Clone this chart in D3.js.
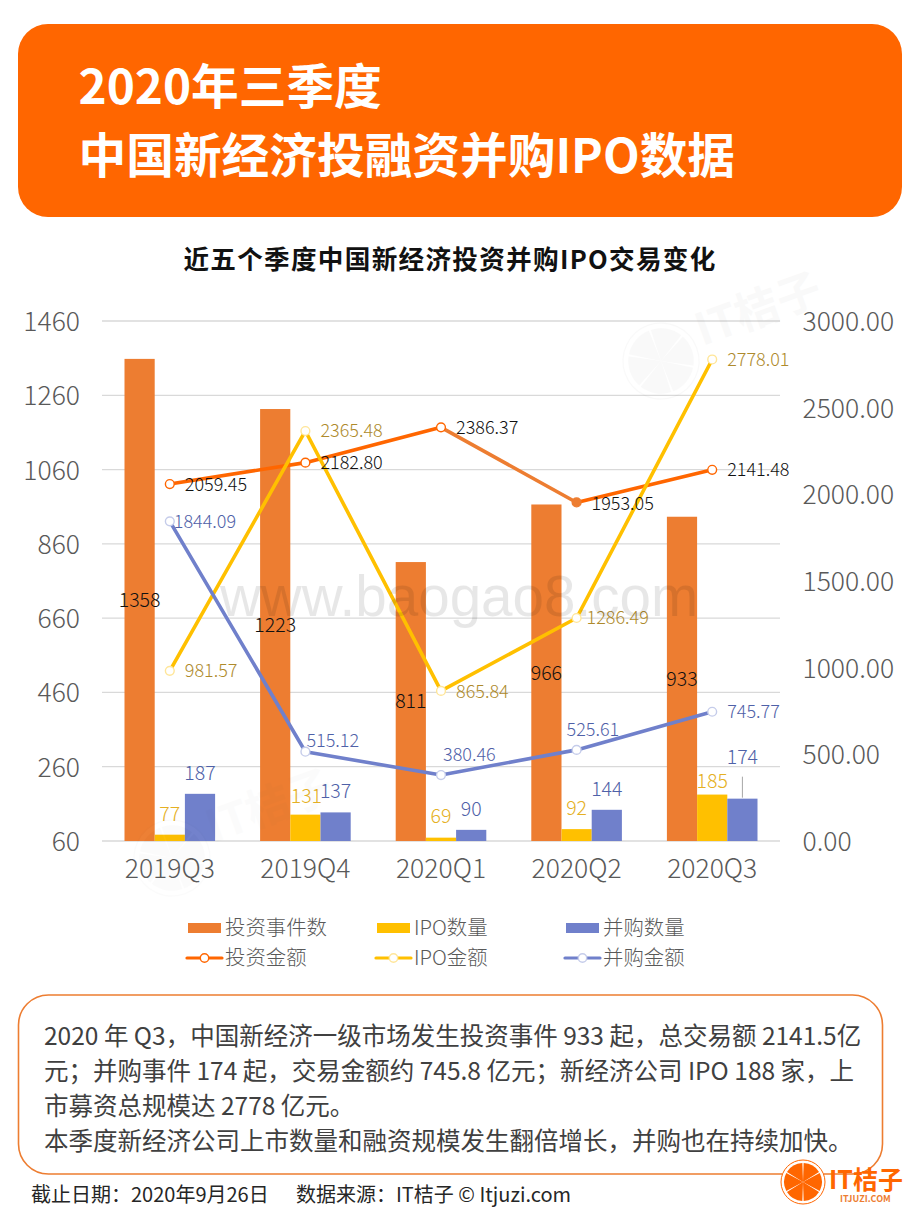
<!DOCTYPE html>
<html>
<head>
<meta charset="utf-8">
<script src="https://cdn.jsdelivr.net/npm/d3@7"></script>
<style>
  html, body { margin: 0; padding: 0; background: #fff; }
  svg { display: block; }
  text { font-family: "Noto Sans CJK SC", "Noto Sans", sans-serif; }
  .axis path, .axis line { display: none; }
  .axis text { font-size: 26.5px; fill: #595959; font-weight: 300; }
</style>
</head>
<body>
<script>
// dados do grafico
var quarters = ["2019Q3", "2019Q4", "2020Q1", "2020Q2", "2020Q3"];
var dealCounts = [1358, 1223, 811, 966, 933];
var ipoCounts = [77, 131, 69, 92, 185];
var maCounts = [187, 137, 90, 144, 174];
var dealAmounts = [2059.45, 2182.80, 2386.37, 1953.05, 2141.48];
var ipoAmounts = [981.57, 2365.48, 865.84, 1286.49, 2778.01];
var maAmounts = [1844.09, 515.12, 380.46, 525.61, 745.77];
var leftTicks = [60, 260, 460, 660, 860, 1060, 1260, 1460];
var rightTicks = [0, 500, 1000, 1500, 2000, 2500, 3000];
var barLegend = ["投资事件数", "IPO数量", "并购数量"];
var lineLegend = ["投资金额", "IPO金额", "并购金额"];
var bodyLines = [
  "2020 年 Q3，中国新经济一级市场发生投资事件 933 起，总交易额 2141.5亿",
  "元；并购事件 174 起，交易金额约 745.8 亿元；新经济公司 IPO 188 家，上",
  "市募资总规模达 2778 亿元。",
  "本季度新经济公司上市数量和融资规模发生翻倍增长，并购也在持续加快。"
];

var orange = "#ED7D31", brand = "#FF6600", yellow = "#FFC000", blue = "#7080CB";

var svg = d3.select("body").append("svg").attr("width", 920).attr("height", 1227);

// cabecalho
svg.append("rect").attr("x", 18).attr("y", 24).attr("width", 884).attr("height", 193)
  .attr("rx", 30).attr("fill", brand);
svg.append("text").attr("x", 78.5).attr("y", 104).attr("fill", "#fff")
  .attr("font-size", 47.7).attr("font-weight", 700).text("2020年三季度");
svg.append("text").attr("x", 78.5).attr("y", 173).attr("fill", "#fff")
  .attr("font-size", 47.7).attr("font-weight", 700).text("中国新经济投融资并购IPO数据");
svg.append("text").attr("x", 450).attr("y", 269).attr("text-anchor", "middle").attr("fill", "#111")
  .attr("font-size", 25.6).attr("font-weight", 700).attr("letter-spacing", 1.3)
  .text("近五个季度中国新经济投资并购IPO交易变化");

// escalas
var x = d3.scaleBand().domain(quarters).range([102, 780]);
var yLeft = d3.scaleLinear().domain([60, 1460]).range([841, 321]);
var yRight = d3.scaleLinear().domain([0, 3000]).range([841, 321]);
var cx = function(q) { return x(q) + x.bandwidth() / 2; };
var barW = 30.2;

// linhas de grade
svg.append("g").selectAll("line").data(leftTicks).enter().append("line")
  .attr("x1", 102).attr("x2", 780)
  .attr("y1", function(d) { return yLeft(d); }).attr("y2", function(d) { return yLeft(d); })
  .attr("stroke", "#D9D9D9").attr("stroke-width", 1.3);

// eixos
svg.append("g").attr("class", "axis").attr("transform", "translate(88,1)")
  .call(d3.axisLeft(yLeft).tickValues(leftTicks).tickFormat(d3.format("d")).tickSize(0).tickPadding(8));
svg.append("g").attr("class", "axis").attr("transform", "translate(794.5,1)")
  .call(d3.axisRight(yRight).tickValues(rightTicks).tickFormat(d3.format(".2f")).tickSize(0).tickPadding(8));
svg.append("g").attr("class", "axis").attr("transform", "translate(0,853)")
  .call(d3.axisBottom(x).tickSize(0).tickPadding(6));

// barras
function drawBars(values, offset, color) {
  svg.append("g").selectAll("rect").data(values).enter().append("rect")
    .attr("x", function(d, i) { return cx(quarters[i]) + offset * barW - barW / 2; })
    .attr("y", function(d) { return yLeft(d); })
    .attr("width", barW)
    .attr("height", function(d) { return yLeft(60) - yLeft(d); })
    .attr("fill", color);
}
drawBars(dealCounts, -1, orange);
drawBars(ipoCounts, 0, yellow);
drawBars(maCounts, 1, blue);

// linha de ligacao do rotulo 174
svg.append("line").attr("x1", cx("2020Q3") + barW).attr("x2", cx("2020Q3") + barW)
  .attr("y1", yLeft(174) - 1).attr("y2", yLeft(174) - 22)
  .attr("stroke", "#A6A6A6").attr("stroke-width", 1);

// linhas
function drawLine(values, colors, markerStroke, filled) {
  var g = svg.append("g");
  var pts = values.map(function(d, i) { return [cx(quarters[i]), yRight(d)]; });
  var line = d3.line();
  d3.pairs(pts).forEach(function(p, i) {
    g.append("path").attr("d", line(p)).attr("fill", "none")
      .attr("stroke", colors[i]).attr("stroke-width", 3.6).attr("stroke-linecap", "round");
  });
  g.selectAll("circle").data(pts).enter().append("circle")
    .attr("cx", function(d) { return d[0]; }).attr("cy", function(d) { return d[1]; })
    .attr("r", 4.4)
    .attr("fill", function(d, i) { return filled === i ? orange : "#fff"; })
    .attr("stroke", function(d, i) { return filled === i ? orange : markerStroke; })
    .attr("stroke-width", 1.4);
}
drawLine(dealAmounts, [brand, brand, orange, brand], brand, 3);
drawLine(ipoAmounts, [yellow, yellow, yellow, yellow], "#FFE699");
drawLine(maAmounts, [blue, blue, blue, blue], "#C5CCEA");

// rotulos
function label(px, py, txt, color, anchor, size) {
  svg.append("text").attr("x", px).attr("y", py).attr("dy", "0.35em")
    .attr("text-anchor", anchor || "start").attr("fill", color)
    .attr("font-size", size).attr("font-weight", 300).text(txt);
}
var countFont = 19.5, amountFont = 18;
var ipoCountColor = "#E5B023", ipoAmountColor = "#AE8A2C", maColor = "#4F61A8";
dealCounts.forEach(function(d, i) {
  label(cx(quarters[i]) - barW, (yLeft(d) + yLeft(60)) / 2, d, "#111", "middle", countFont);
});
var ipoLabelGap = [21, 18, 21, 21, 13];
var ipoLabelShift = [0, 1, 0, 0, 0];
ipoCounts.forEach(function(d, i) {
  label(cx(quarters[i]) + ipoLabelShift[i], yLeft(d) - ipoLabelGap[i], d, ipoCountColor, "middle", countFont);
});
var maLabelGap = [21, 21, 21, 21, 41];
maCounts.forEach(function(d, i) {
  label(cx(quarters[i]) + barW, yLeft(d) - maLabelGap[i], d, maColor, "middle", countFont);
});

// rotulos das linhas (deslocamento em relacao ao ponto)
var dealOffsets = [[15, 1], [15, 0], [15, 0], [15, 1], [15, 0]];
var ipoOffsets = [[15, 0], [15, 0], [15, 1], [10, 0], [15, 0]];
var maOffsets = [[4, 0], [1, -11], [2, -20], [-10, -20], [15, 0]];
function lineLabels(values, offsets, color) {
  values.forEach(function(d, i) {
    label(cx(quarters[i]) + offsets[i][0], yRight(d) + offsets[i][1], d.toFixed(2), color, "start", amountFont);
  });
}
lineLabels(dealAmounts, dealOffsets, "#111");
lineLabels(ipoAmounts, ipoOffsets, ipoAmountColor);
lineLabels(maAmounts, maOffsets, maColor);

// legenda
var legendX = [188, 377, 566];
[orange, yellow, blue].forEach(function(c, i) {
  svg.append("rect").attr("x", legendX[i]).attr("y", 923).attr("width", 33).attr("height", 10).attr("fill", c);
  svg.append("text").attr("x", legendX[i] + 37).attr("y", 935).attr("fill", "#595959")
    .attr("font-size", 20.4).attr("font-weight", 300).text(barLegend[i]);
});
[brand, yellow, blue].forEach(function(c, i) {
  var stroke = [brand, "#FFE699", "#C5CCEA"][i];
  svg.append("line").attr("x1", legendX[i] - 1).attr("x2", legendX[i] + 34)
    .attr("y1", 958).attr("y2", 958).attr("stroke", c).attr("stroke-width", 3.2).attr("stroke-linecap", "round");
  svg.append("circle").attr("cx", legendX[i] + 16.5).attr("cy", 958).attr("r", 4.2)
    .attr("fill", "#fff").attr("stroke", stroke).attr("stroke-width", 1.4);
  svg.append("text").attr("x", legendX[i] + 37).attr("y", 965).attr("fill", "#595959")
    .attr("font-size", 20.4).attr("font-weight", 300).text(lineLegend[i]);
});

// marca d'agua
svg.append("text").attr("x", 220).attr("y", 616).attr("fill", "#000").attr("opacity", 0.09)
  .attr("font-size", 56.6).style("font-family", "Liberation Sans").text("www.baogao8.com");

function drawLogo(g, r, fill) {
  var pie = d3.pie().value(1).padAngle(0.07)(d3.range(6));
  var arc = d3.arc().innerRadius(0).outerRadius(r * 0.86);
  g.append("circle").attr("r", r).attr("fill", "#fff").attr("stroke", fill).attr("stroke-width", 1);
  g.selectAll("path").data(pie).enter().append("path").attr("d", arc).attr("fill", fill);
}
function drawWatermark(transform, alpha) {
  var wm = svg.append("g").attr("transform", transform).attr("opacity", alpha);
  drawLogo(wm.append("g"), 38, "#555");
  wm.append("text").attr("x", 44).attr("y", 0).attr("font-size", 44).attr("font-weight", 700).attr("fill", "#555").text("IT桔子");
}
drawWatermark("translate(661,361) rotate(-20)", 0.03);
drawWatermark("translate(172,858) rotate(-20)", 0.02);

// caixa de texto
svg.append("rect").attr("x", 18.5).attr("y", 995).attr("width", 864).attr("height", 179).attr("rx", 30)
  .attr("fill", "#fff").attr("stroke", orange).attr("stroke-width", 1.6);
svg.append("g").selectAll("text").data(bodyLines).enter().append("text")
  .attr("x", 44).attr("y", function(d, i) { return 1045 + i * 35; })
  .attr("fill", "#404040").attr("font-size", 24.5).text(function(d) { return d; });

// rodape
svg.append("text").attr("x", 31).attr("y", 1202).attr("fill", "#262626").attr("font-size", 20)
  .text("截止日期：2020年9月26日");
svg.append("text").attr("x", 296).attr("y", 1202).attr("fill", "#262626").attr("font-size", 20)
  .text("数据来源：IT桔子 © Itjuzi.com");

var logo = svg.append("g").attr("transform", "translate(803,1182)");
drawLogo(logo, 22, brand);
svg.append("text").attr("x", 829).attr("y", 1189).attr("fill", brand).attr("font-size", 25).attr("font-weight", 700).text("IT桔子");
svg.append("text").attr("x", 840).attr("y", 1202).attr("fill", orange).attr("font-size", 9).attr("font-weight", 700).text("ITJUZI.COM");
</script>
</body>
</html>
